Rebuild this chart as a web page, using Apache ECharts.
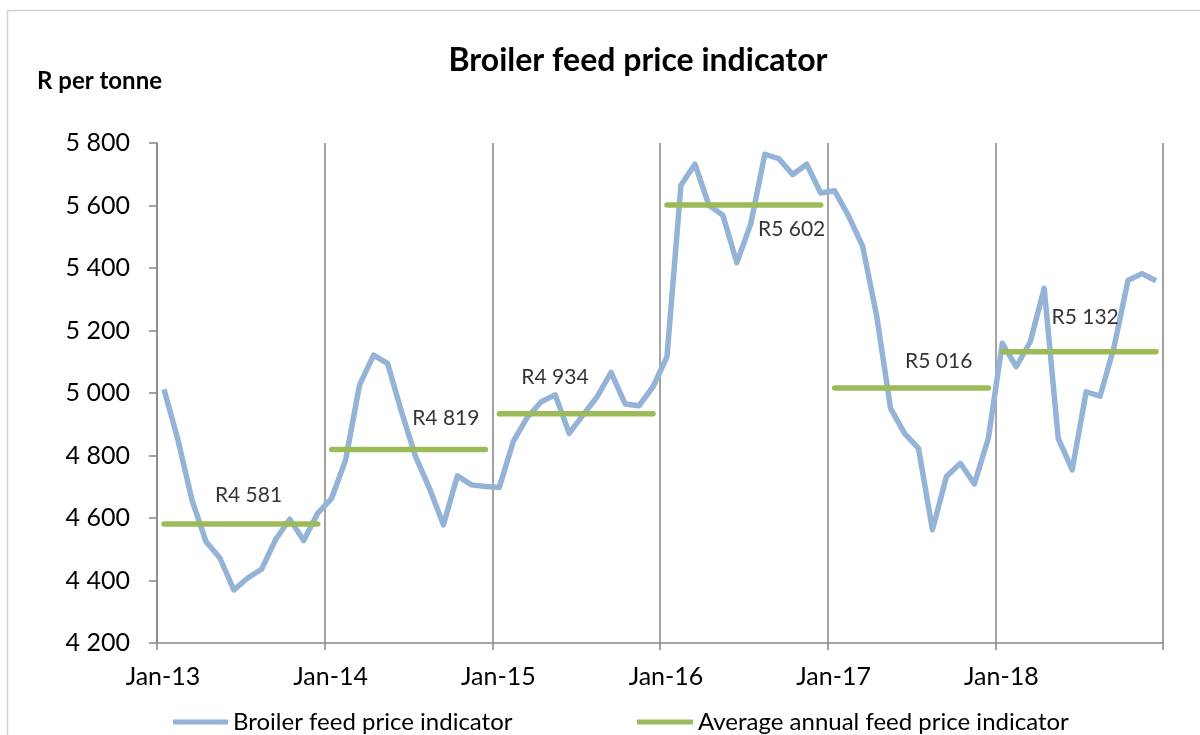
<!DOCTYPE html>
<html>
<head>
<meta charset="utf-8">
<script src="https://cdn.jsdelivr.net/npm/echarts@6/dist/echarts.min.js"></script>
<style>
  html, body { margin: 0; padding: 0; background: #fff; }
  #chart { width: 1200px; height: 735px; }
</style>
</head>
<body>
<div id="chart"></div>
<script>
// monthly broiler feed price, Jan-13 .. Dec-18 (R per tonne)
const price = [
  5012, 4850, 4658, 4525, 4472, 4370, 4408, 4437, 4532, 4596, 4528, 4615,
  4663, 4786, 5026, 5121, 5095, 4940, 4797, 4695, 4578, 4735, 4706, 4701,
  4698, 4845, 4922, 4972, 4994, 4871, 4930, 4988, 5066, 4965, 4959, 5020,
  5116, 5665, 5732, 5601, 5569, 5417, 5542, 5764, 5750, 5699, 5732, 5640,
  5647, 5566, 5470, 5249, 4951, 4871, 4823, 4562, 4733, 4775, 4709, 4855,
  5159, 5084, 5164, 5335, 4855, 4754, 5004, 4990, 5148, 5361, 5382, 5359
];
const avgPrice = [4581, 4819, 4934, 5602, 5016, 5132];
const tickLabels = ['Jan-13', 'Jan-14', 'Jan-15', 'Jan-16', 'Jan-17', 'Jan-18', ''];

// where the "R4 581" style labels sit (month units, R)
const avgLabelAt = [[6.55, 4672], [20.67, 4919], [28.48, 5052], [45.42, 5523], [55.95, 5102], [66.43, 5242]];

const FONT = 'Lato';
const BLUE = '#95b3d7';
const GREEN = '#9bbb59';
const GRID = '#868686';

const fmt = v => String(v).replace(/\B(?=(\d{3})+(?!\d))/g, ' ');

const chart = echarts.init(document.getElementById('chart'));

// months are drawn in the middle of their slot, like Excel date axis
const priceData = price.map((v, i) => [i + 0.5, v]);

const avgSeries = avgPrice.map((v, k) => ({
  name: 'Average annual feed price indicator',
  type: 'line',
  data: [[k * 12 + 0.5, v], [k * 12 + 11.5, v]],
  symbol: 'none',
  lineStyle: { color: GREEN, width: 5.5, cap: 'round' },
  itemStyle: { color: GREEN },
  z: 3,
  silent: true
}));

const legendText = { fontFamily: FONT, fontSize: 24, color: '#000' };

const option = {
  animation: false,
  backgroundColor: '#fff',
  title: {
    text: 'Broiler feed price indicator',
    left: 633,
    top: 40,
    textAlign: 'center',
    textStyle: { fontFamily: FONT, fontSize: 32, fontWeight: 'bold', color: '#000' }
  },
  graphic: [
    {
      type: 'rect',
      shape: { x: 7.5, y: 10.5, width: 1200, height: 740 },
      style: { fill: 'none', stroke: '#d0d0d0', lineWidth: 1.5 },
      silent: true
    },
    {
      type: 'text',
      left: 37,
      top: 69,
      style: { text: 'R per tonne', font: 'bold 24px ' + FONT, fill: '#000' }
    }
  ],
  legend: [
    {
      data: ['Broiler feed price indicator'],
      left: 168, top: 705,
      icon: 'rect', itemWidth: 55, itemHeight: 5, itemGap: 5,
      textStyle: legendText
    },
    {
      data: ['Average annual feed price indicator'],
      left: 632, top: 705,
      icon: 'rect', itemWidth: 56, itemHeight: 5, itemGap: 5,
      textStyle: legendText
    }
  ],
  grid: { left: 157, right: 37, top: 143, bottom: 92 },
  xAxis: {
    type: 'value',
    min: 0,
    max: 72,
    interval: 12,
    axisLine: { show: true, lineStyle: { color: GRID, width: 1.5 } },
    axisTick: { show: true, length: 7, lineStyle: { color: GRID, width: 1.5 } },
    splitLine: { show: true, lineStyle: { color: GRID, width: 1.5 } },
    axisLabel: {
      formatter: v => tickLabels[Math.round(v / 12)],
      fontFamily: FONT, fontSize: 25, color: '#000',
      margin: 21,
      padding: [0, 0, 0, 12]
    }
  },
  yAxis: {
    type: 'value',
    min: 4200,
    max: 5800,
    interval: 200,
    axisLine: { show: true, lineStyle: { color: GRID, width: 1.5 } },
    axisTick: { show: true, length: 8, lineStyle: { color: GRID, width: 1.5 } },
    splitLine: { show: false },
    axisLabel: {
      formatter: v => fmt(v),
      fontFamily: FONT, fontSize: 25, color: '#000',
      margin: 27
    }
  },
  series: [
    {
      name: 'Broiler feed price indicator',
      type: 'line',
      data: priceData,
      symbol: 'none',
      lineStyle: { color: BLUE, width: 5.5, join: 'round' },
      itemStyle: { color: BLUE },
      z: 2,
      silent: true
    },
    ...avgSeries,
    {
      type: 'scatter',
      data: avgLabelAt.map((p, k) => [p[0], p[1], avgPrice[k]]),
      symbolSize: 0,
      silent: true,
      z: 5,
      label: {
        show: true,
        position: 'inside',
        formatter: p => 'R' + fmt(p.value[2]),
        fontFamily: FONT, fontSize: 21, color: '#000'
      }
    }
  ]
};

chart.setOption(option);
</script>
</body>
</html>
